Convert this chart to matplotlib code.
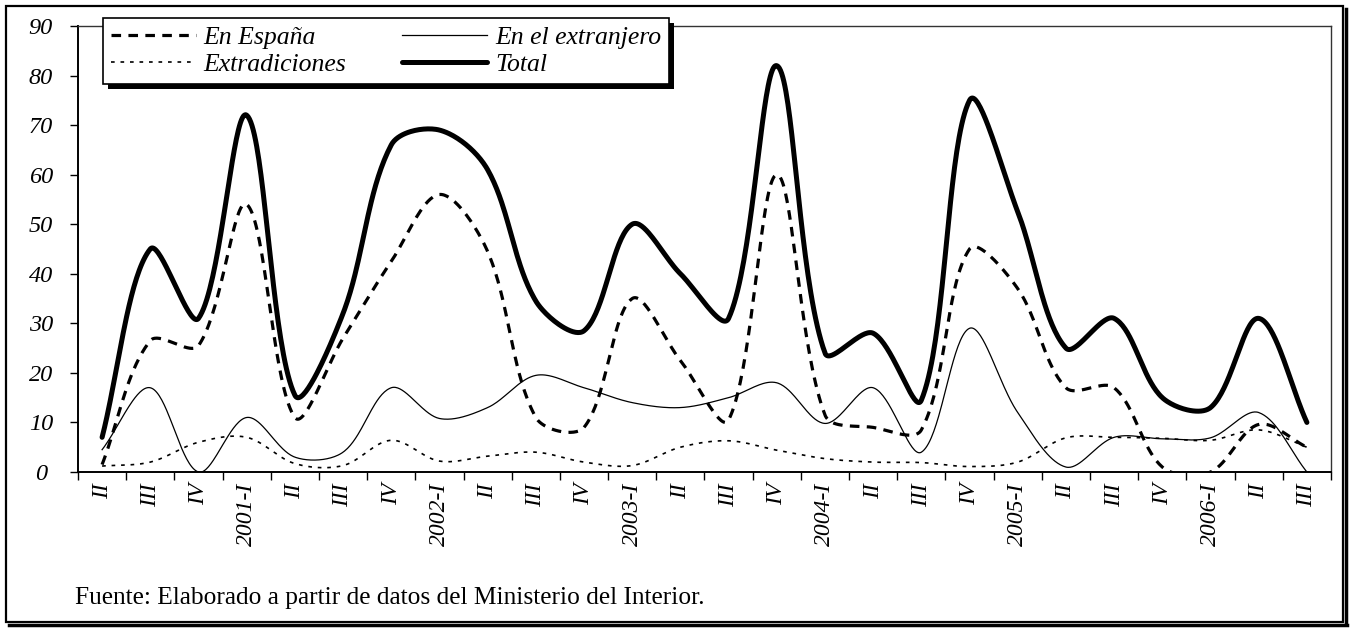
import numpy as np
import matplotlib
matplotlib.use("Agg")
import matplotlib.pyplot as plt
from matplotlib.font_manager import FontProperties
from matplotlib.lines import Line2D
from matplotlib.patches import Rectangle

# quarters, from 2000-II to 2006-III
cats = ["II", "III", "IV", "2001-I", "II", "III", "IV", "2002-I", "II", "III", "IV",
        "2003-I", "II", "III", "IV", "2004-I", "II", "III", "IV", "2005-I", "II", "III",
        "IV", "2006-I", "II", "III"]

espana = [1.5, 26.5, 25.5, 54, 11, 27, 42.5, 56, 44.5, 11, 9, 35, 22.5, 10.5, 60,
          11.5, 9, 8.5, 45, 37, 17, 17, 1, 0, 9.6, 5]
extranjero = [4.5, 17, 0, 11, 3, 4, 17, 10.8, 13, 19.5, 17, 14, 13, 15, 18,
              9.8, 17, 4, 29, 12, 1, 7, 6.7, 6.9, 12, 0]
extradiciones = [1.2, 2, 6, 7, 1.7, 1.3, 6.4, 2.2, 3.2, 4, 2, 1.3, 5, 6.3, 4.4,
                 2.7, 2, 1.9, 1.1, 2, 6.9, 7, 6.8, 6.4, 8.5, 5]
total = [7, 45, 31, 72, 15.5, 32, 66, 69, 61, 34.5, 28.5, 50, 40, 31, 82,
         24, 28, 14.5, 75, 52.5, 25, 31, 15, 13, 31, 10]

W, H = 1351, 628
fig = plt.figure(figsize=(W / 100, H / 100), dpi=100)
ax = fig.add_axes([78 / W, 1 - 472 / H, (1331 - 78) / W, (472 - 26) / H])

ax.set_xlim(-0.5, len(cats) - 0.5)
ax.set_ylim(0, 90)

# screen aspect (px per y unit / px per category) for the smoothing
ratio = ((472 - 26) / 90) / ((1331 - 78) / len(cats))


def smooth(y, n=40):
    # bezier smoothing like a spreadsheet "smoothed line"
    x = np.arange(len(y), dtype=float)
    pts = np.column_stack([x, np.asarray(y, dtype=float) * ratio])
    N = len(pts)
    out = [pts[0]]
    t = np.linspace(0, 1, n)[1:, None]
    for i in range(N - 1):
        p0 = pts[i - 1] if i > 0 else pts[i]
        p1 = pts[i]
        p2 = pts[i + 1]
        p3 = pts[i + 2] if i + 2 < N else pts[i + 1]
        d01 = np.linalg.norm(p1 - p0)
        d12 = np.linalg.norm(p2 - p1)
        d23 = np.linalg.norm(p3 - p2)
        c1 = p1 + (p2 - p0) * (d12 / (d01 + d12)) / 3
        c2 = p2 - (p3 - p1) * (d12 / (d12 + d23)) / 3
        seg = ((1 - t) ** 3) * p1 + 3 * ((1 - t) ** 2) * t * c1 \
            + 3 * (1 - t) * t ** 2 * c2 + t ** 3 * p2
        out.extend(seg)
    out = np.array(out)
    return out[:, 0], out[:, 1] / ratio


xs, ys = smooth(extradiciones)
ax.plot(xs, ys, color="black", lw=1.2, dashes=(2.2, 3.5), label="Extradiciones")
xs, ys = smooth(extranjero)
ax.plot(xs, ys, color="black", lw=0.9, label="En el extranjero")
xs, ys = smooth(espana)
ax.plot(xs, ys, color="black", lw=2.3, dashes=(3, 2.3), label="En España")
xs, ys = smooth(total)
ax.plot(xs, ys, color="black", lw=3.6, solid_capstyle="round", label="Total")

ital = FontProperties(family="Liberation Serif", style="italic", size=17.5)
ital_x = FontProperties(family="Liberation Serif", style="italic", size=17)

ax.set_yticks(range(0, 91, 10))
ax.set_yticklabels([str(v) for v in range(0, 91, 10)], fontproperties=ital)
for lab in ax.get_yticklabels():
    lab.set_horizontalalignment("center")
ax.tick_params(axis="y", length=5.8, width=1, pad=21, direction="out")

ax.set_xticks(np.arange(len(cats)))
ax.set_xticklabels(cats, rotation=90, fontproperties=ital_x)
ax.set_xticks(np.arange(-0.5, len(cats), 1), minor=True)
ax.tick_params(axis="x", which="major", length=0, pad=8)
ax.tick_params(axis="x", which="minor", length=5.8, width=1, direction="out")

for s in ["left", "bottom"]:
    ax.spines[s].set_linewidth(1.4)
for s in ["top", "right"]:
    ax.spines[s].set_linewidth(1.0)
    ax.spines[s].set_color("#333333")

handles = [
    Line2D([], [], color="black", lw=2.3, dashes=(3, 2.3)),
    Line2D([], [], color="black", lw=1.2, dashes=(2.2, 3.5)),
    Line2D([], [], color="black", lw=0.9),
    Line2D([], [], color="black", lw=3.6, solid_capstyle="round"),
]
labels = ["En España", "Extradiciones", "En el extranjero", "Total"]
leg = ax.legend(handles, labels, loc="upper left",
                bbox_to_anchor=(103 / W, 1 - 18 / H), bbox_transform=fig.transFigure,
                ncol=2, frameon=True, fancybox=False, framealpha=1, edgecolor="black",
                borderaxespad=0, borderpad=0.3, handlelength=3.3, handletextpad=0.3,
                columnspacing=2.2, labelspacing=0.16,
                prop=FontProperties(family="Liberation Serif", style="italic", size=18.5))
leg.get_frame().set_linewidth(1.2)
leg.set_zorder(5)

fig.canvas.draw()
bb = leg.get_window_extent().transformed(fig.transFigure.inverted())
ax.add_patch(Rectangle((bb.x0 + 5 / W, bb.y0 - 5 / H), bb.width, bb.height,
                       transform=fig.transFigure, facecolor="black", edgecolor="none",
                       zorder=4.9, clip_on=False))

fig.text(75 / W, 1 - 598 / H,
         "Fuente: Elaborado a partir de datos del Ministerio del Interior.",
         family="Liberation Serif", size=18.3, va="center", ha="left")

# outer frame with a heavier right/bottom edge
fig.add_artist(Rectangle((6 / W, 6 / H), (1343 - 6) / W, (622 - 6) / H,
                         transform=fig.transFigure, fill=False, edgecolor="black", lw=1.6))
fig.add_artist(Line2D([1346 / W, 1346 / W], [4 / H, (H - 9) / H],
                      transform=fig.transFigure, color="black", lw=2.5))
fig.add_artist(Line2D([9 / W, 1347 / W], [3 / H, 3 / H],
                      transform=fig.transFigure, color="black", lw=2.5))

fig.savefig("out.png", dpi=100)
